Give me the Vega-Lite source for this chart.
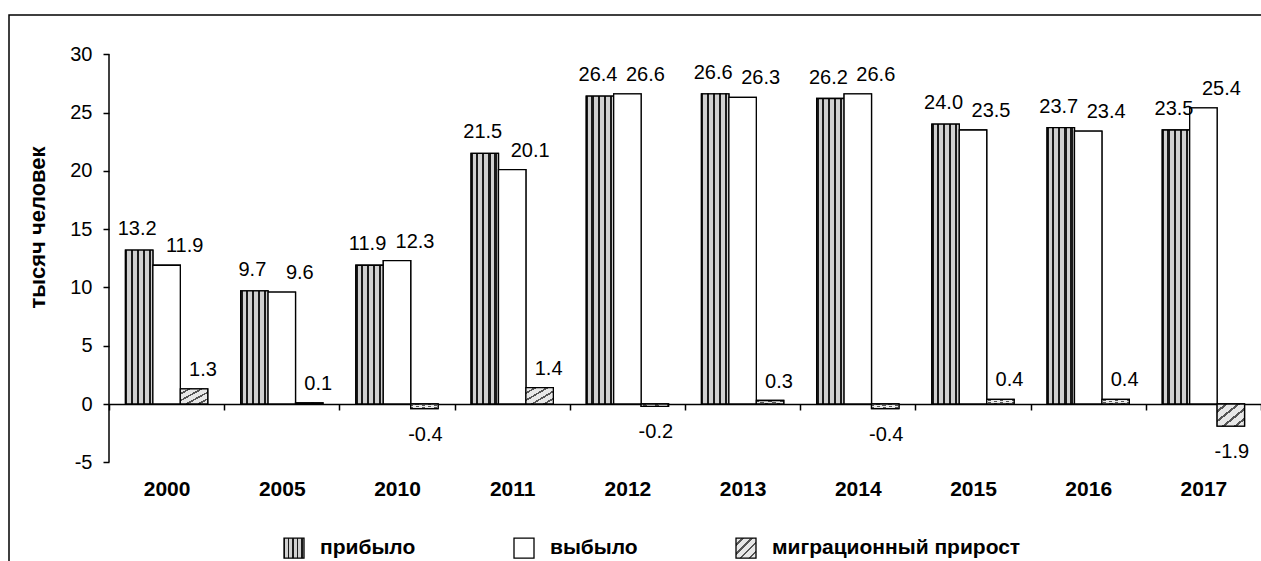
{
  "$schema": "https://vega.github.io/schema/vega-lite/v6.json",
  "width": 1350,
  "height": 549,
  "autosize": {"type": "none"},
  "padding": {"left": 9, "top": 15, "right": -98, "bottom": -3},
  "background": "white",
  "config": {
    "view": {"stroke": "black", "strokeWidth": 1.5},
    "font": "Liberation Sans",
    "locale": {"number": {"decimal": ".", "thousands": ",", "grouping": [3], "currency": ["$", ""], "minus": "-"}}
  },
  "data": {"values": [
    {"year": "2000", "series": "прибыло", "value": 13.2},
    {"year": "2000", "series": "выбыло", "value": 11.9},
    {"year": "2000", "series": "миграционный прирост", "value": 1.3},
    {"year": "2005", "series": "прибыло", "value": 9.7},
    {"year": "2005", "series": "выбыло", "value": 9.6},
    {"year": "2005", "series": "миграционный прирост", "value": 0.1},
    {"year": "2010", "series": "прибыло", "value": 11.9},
    {"year": "2010", "series": "выбыло", "value": 12.3},
    {"year": "2010", "series": "миграционный прирост", "value": -0.4},
    {"year": "2011", "series": "прибыло", "value": 21.5},
    {"year": "2011", "series": "выбыло", "value": 20.1},
    {"year": "2011", "series": "миграционный прирост", "value": 1.4},
    {"year": "2012", "series": "прибыло", "value": 26.4},
    {"year": "2012", "series": "выбыло", "value": 26.6},
    {"year": "2012", "series": "миграционный прирост", "value": -0.2},
    {"year": "2013", "series": "прибыло", "value": 26.6},
    {"year": "2013", "series": "выбыло", "value": 26.3},
    {"year": "2013", "series": "миграционный прирост", "value": 0.3},
    {"year": "2014", "series": "прибыло", "value": 26.2},
    {"year": "2014", "series": "выбыло", "value": 26.6},
    {"year": "2014", "series": "миграционный прирост", "value": -0.4},
    {"year": "2015", "series": "прибыло", "value": 24.0},
    {"year": "2015", "series": "выбыло", "value": 23.5},
    {"year": "2015", "series": "миграционный прирост", "value": 0.4},
    {"year": "2016", "series": "прибыло", "value": 23.7},
    {"year": "2016", "series": "выбыло", "value": 23.4},
    {"year": "2016", "series": "миграционный прирост", "value": 0.4},
    {"year": "2017", "series": "прибыло", "value": 23.5},
    {"year": "2017", "series": "выбыло", "value": 25.4},
    {"year": "2017", "series": "миграционный прирост", "value": -1.9}
  ]},
  "layer": [
    {
      "mark": {"type": "bar", "stroke": "black", "strokeWidth": 1.3},
      "encoding": {
        "x": {
          "field": "year", "type": "nominal",
          "scale": {"range": [100, 1252], "paddingInner": 0, "paddingOuter": 0},
          "axis": {
            "orient": "bottom", "offset": -160, "title": null, "grid": false,
            "domainColor": "black", "domainWidth": 1.5,
            "tickColor": "black", "tickSize": 6, "tickWidth": 1.5, "tickBand": "extent",
            "labelFont": "Liberation Sans", "labelFontSize": 21, "labelFontWeight": "bold",
            "labelColor": "black", "labelPadding": 68, "labelAngle": 0
          }
        },
        "xOffset": {
          "field": "series", "type": "nominal",
          "scale": {"domain": ["прибыло", "выбыло", "миграционный прирост"], "paddingInner": 0, "paddingOuter": 0.6}
        },
        "y": {
          "field": "value", "type": "quantitative", "stack": null,
          "scale": {"domain": [-13.722, 33.362], "nice": false, "zero": false},
          "axis": {
            "orient": "left", "offset": -100, "domain": false, "grid": false,
            "values": [-5, 0, 5, 10, 15, 20, 25, 30],
            "tickColor": "black", "tickSize": 6, "tickWidth": 1.5,
            "labelFont": "Liberation Sans", "labelFontSize": 20, "labelColor": "black", "labelPadding": 11,
            "title": "тысяч человек", "titleFont": "Liberation Sans", "titleFontSize": 22,
            "titleFontWeight": "bold", "titleColor": "black",
            "titleX": -72, "titleY": 212, "titleAngle": -90, "titleAlign": "center", "titleBaseline": "middle"
          }
        },
        "y2": {"datum": 0},
        "color": {
          "field": "series", "type": "nominal",
          "scale": {"domain": ["прибыло", "выбыло", "миграционный прирост"], "range": ["url(#pat_pribylo)", "white", "url(#pat_migr)"]},
          "legend": {
            "orient": "none", "legendX": 274, "legendY": 522, "direction": "horizontal",
            "title": null, "symbolType": "square", "symbolSize": 400,
            "symbolStrokeColor": "black", "symbolStrokeWidth": 1.3, "symbolOpacity": 1,
            "labelFont": "Liberation Sans", "labelFontSize": 21, "labelFontWeight": "bold",
            "labelColor": "black", "labelOffset": 15, "columnPadding": 95, "padding": 0, "labelLimit": 400
          }
        }
      }
    },
    {
      "mark": {"type": "bar", "stroke": "black", "strokeWidth": 1.3},
      "encoding": {
        "x": {"field": "year", "type": "nominal"},
        "xOffset": {"field": "series", "type": "nominal"},
        "y": {"field": "value", "type": "quantitative", "stack": null},
        "y2": {"datum": 0},
        "fill": {
          "condition": [
            {"test": "datum.series === 'прибыло'", "value": {"gradient": "linear", "id": "pat_pribylo", "x1": 0, "y1": 0, "x2": 1, "y2": 0, "stops": [
              {"offset": 0, "color": "#1a1a1a"}, {"offset": 0.07, "color": "#1a1a1a"},
              {"offset": 0.07, "color": "#d0d0d0"}, {"offset": 0.19, "color": "#d0d0d0"},
              {"offset": 0.19, "color": "#1a1a1a"}, {"offset": 0.27, "color": "#1a1a1a"},
              {"offset": 0.27, "color": "#d0d0d0"}, {"offset": 0.41, "color": "#d0d0d0"},
              {"offset": 0.41, "color": "#1a1a1a"}, {"offset": 0.49, "color": "#1a1a1a"},
              {"offset": 0.49, "color": "#d0d0d0"}, {"offset": 0.63, "color": "#d0d0d0"},
              {"offset": 0.63, "color": "#1a1a1a"}, {"offset": 0.71, "color": "#1a1a1a"},
              {"offset": 0.71, "color": "#d0d0d0"}, {"offset": 0.85, "color": "#d0d0d0"},
              {"offset": 0.85, "color": "#1a1a1a"}, {"offset": 0.93, "color": "#1a1a1a"},
              {"offset": 0.93, "color": "#d0d0d0"}, {"offset": 1, "color": "#d0d0d0"}
            ]}},
            {"test": "datum.series === 'миграционный прирост'", "value": {"gradient": "linear", "id": "pat_migr", "x1": 0, "y1": 0, "x2": 1, "y2": 1, "stops": [
              {"offset": 0, "color": "#e8e8e8"}, {"offset": 0.14, "color": "#e8e8e8"},
              {"offset": 0.14, "color": "#555555"}, {"offset": 0.2, "color": "#555555"},
              {"offset": 0.2, "color": "#e8e8e8"}, {"offset": 0.36, "color": "#e8e8e8"},
              {"offset": 0.36, "color": "#555555"}, {"offset": 0.42, "color": "#555555"},
              {"offset": 0.42, "color": "#e8e8e8"}, {"offset": 0.58, "color": "#e8e8e8"},
              {"offset": 0.58, "color": "#555555"}, {"offset": 0.64, "color": "#555555"},
              {"offset": 0.64, "color": "#e8e8e8"}, {"offset": 0.8, "color": "#e8e8e8"},
              {"offset": 0.8, "color": "#555555"}, {"offset": 0.86, "color": "#555555"},
              {"offset": 0.86, "color": "#e8e8e8"}, {"offset": 1, "color": "#e8e8e8"}
            ]}}
          ],
          "value": "white"
        }
      }
    },
    {
      "data": {"values": [{"year": "2000", "lo": -5, "hi": 30}]},
      "mark": {"type": "rule", "stroke": "black", "strokeWidth": 1.5},
      "encoding": {
        "x": {"field": "year", "type": "nominal", "bandPosition": 0},
        "y": {"field": "lo", "type": "quantitative"},
        "y2": {"field": "hi"}
      }
    },
    {
      "transform": [{"filter": "datum.series === 'прибыло'"}],
      "mark": {"type": "text", "baseline": "middle", "dy": -21, "dx": -2, "fontSize": 20, "color": "black", "font": "Liberation Sans"},
      "encoding": {
        "x": {"field": "year", "type": "nominal"},
        "xOffset": {"field": "series", "type": "nominal"},
        "y": {"field": "value", "type": "quantitative"},
        "text": {"field": "value", "type": "quantitative", "format": ".1f"}
      }
    },
    {
      "transform": [{"filter": "datum.series === 'выбыло'"}],
      "mark": {"type": "text", "baseline": "middle", "dy": -19, "dx": 18, "fontSize": 20, "color": "black", "font": "Liberation Sans"},
      "encoding": {
        "x": {"field": "year", "type": "nominal"},
        "xOffset": {"field": "series", "type": "nominal"},
        "y": {"field": "value", "type": "quantitative"},
        "text": {"field": "value", "type": "quantitative", "format": ".1f"}
      }
    },
    {
      "transform": [{"filter": "datum.series === 'миграционный прирост' && datum.value >= 0"}],
      "mark": {"type": "text", "baseline": "middle", "dy": -19, "dx": 9, "fontSize": 20, "color": "black", "font": "Liberation Sans"},
      "encoding": {
        "x": {"field": "year", "type": "nominal"},
        "xOffset": {"field": "series", "type": "nominal"},
        "y": {"field": "value", "type": "quantitative"},
        "text": {"field": "value", "type": "quantitative", "format": ".1f"}
      }
    },
    {
      "transform": [{"filter": "datum.value < 0"}],
      "mark": {"type": "text", "baseline": "middle", "dy": 26, "dx": 1, "fontSize": 20, "color": "black", "font": "Liberation Sans"},
      "encoding": {
        "x": {"field": "year", "type": "nominal"},
        "xOffset": {"field": "series", "type": "nominal"},
        "y": {"field": "value", "type": "quantitative"},
        "text": {"field": "value", "type": "quantitative", "format": ".1f"}
      }
    }
  ]
}
